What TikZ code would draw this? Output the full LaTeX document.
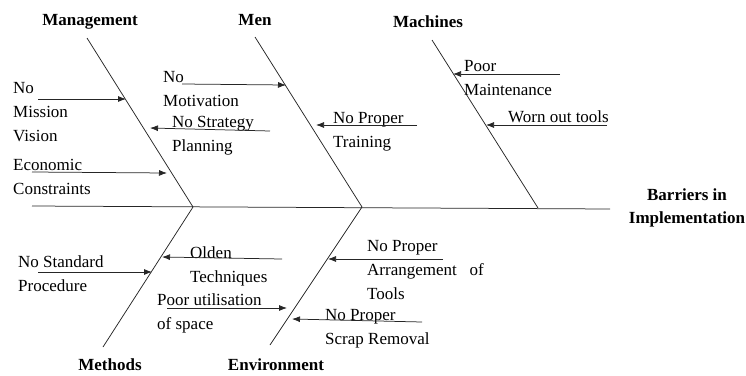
\documentclass[tikz,border=0pt]{standalone}
\usepackage{fontspec}
\setmainfont{Liberation Serif}
\usetikzlibrary{arrows.meta}
\tikzset{
  bone/.style={line width=0.75pt,draw=black!85},
  cause/.style={line width=0.75pt,draw=black!85,-{Latex[length=8pt,width=6pt]}},
  lbl/.style={anchor=north west,inner sep=0pt,align=left,font=\fontsize{17}{24}\selectfont},
  head/.style={inner sep=0pt,align=center,font=\fontsize{17}{23}\selectfont\bfseries},
}

\begin{document}
\begin{tikzpicture}[x=1pt,y=-1pt]
  \useasboundingbox (0,0) rectangle (746,375);

  % spine and bones
  \coordinate (spL) at (32,206);
  \coordinate (spR) at (610,209);
  \coordinate (mgT) at (87,38);    \coordinate (mgB) at (193,207);
  \coordinate (mnT) at (255,37);   \coordinate (mnB) at (362,207);
  \coordinate (mcT) at (432,40);   \coordinate (mcB) at (538,208);
  \coordinate (mtB) at (103,347);
  \coordinate (evB) at (270,345);
  \draw[bone] (spL) -- (spR);
  \draw[bone] (mgT) -- (mgB) -- (mtB);
  \draw[bone] (mnT) -- (mnB) -- (evB);
  \draw[bone] (mcT) -- (mcB);

  % headings
  \node[head] (management) at (90,22) {Management};
  \node[head] (men) at (255,20) {Men};
  \node[head] (machines) at (428,22) {Machines};
  \node[head] (methods) at (110,365) {Methods};
  \node[head] (environment) at (276,365) {Environment};
  \node[head] (barriers) at (687,208) {Barriers in\\Implementation};

  % causes
  \node[lbl] (nmv) at (13,82) {No\\Mission\\Vision};
  \node[lbl] (ecc) at (13,159) {Economic\\Constraints};
  \node[lbl] (nsp) at (172,116) {No Strategy\\Planning};
  \node[lbl] (nmo) at (163,71) {No\\Motivation};
  \node[lbl] (npt) at (333,112) {No Proper\\Training};
  \node[lbl] (pmt) at (464,60) {Poor\\Maintenance};
  \node[lbl] (wot) at (508,111) {Worn out tools};
  \node[lbl] (nsd) at (18,255) {No Standard\\Procedure};
  \node[lbl] (olt) at (190,246) {Olden\\Techniques};
  \node[lbl] (pus) at (157,293) {Poor utilisation\\of space};
  \node[lbl] (npa) at (367,240) {No Proper\\Arrangement\ \ \ of\\Tools};
  \node[lbl] (nps) at (325,309) {No Proper\\Scrap Removal};

  % arrows
  \coordinate (nmvS) at (38,99);   \coordinate (nmvE) at (126,99);
  \coordinate (eccS) at (32,172);  \coordinate (eccE) at (167,173);
  \coordinate (nspS) at (270,131); \coordinate (nspE) at (150,128);
  \coordinate (nmoS) at (182,84);  \coordinate (nmoE) at (286,85);
  \coordinate (nptS) at (417,125); \coordinate (nptE) at (316,125);
  \coordinate (pmtS) at (560,74);  \coordinate (pmtE) at (453,74);
  \coordinate (wotS) at (607,125); \coordinate (wotE) at (486,125);
  \coordinate (nsdS) at (38,272);  \coordinate (nsdE) at (152,272);
  \coordinate (oltS) at (282,259); \coordinate (oltE) at (162,257);
  \coordinate (pusS) at (167,308); \coordinate (pusE) at (287,308);
  \coordinate (npaS) at (443,259); \coordinate (npaE) at (328,259);
  \coordinate (npsS) at (422,322); \coordinate (npsE) at (292,319);
  \draw[cause] (nmvS) -- (nmvE);
  \draw[cause] (eccS) -- (eccE);
  \draw[cause] (nspS) -- (nspE);
  \draw[cause] (nmoS) -- (nmoE);
  \draw[cause] (nptS) -- (nptE);
  \draw[cause] (pmtS) -- (pmtE);
  \draw[cause] (wotS) -- (wotE);
  \draw[cause] (nsdS) -- (nsdE);
  \draw[cause] (oltS) -- (oltE);
  \draw[cause] (pusS) -- (pusE);
  \draw[cause] (npaS) -- (npaE);
  \draw[cause] (npsS) -- (npsE);
\end{tikzpicture}
\end{document}
